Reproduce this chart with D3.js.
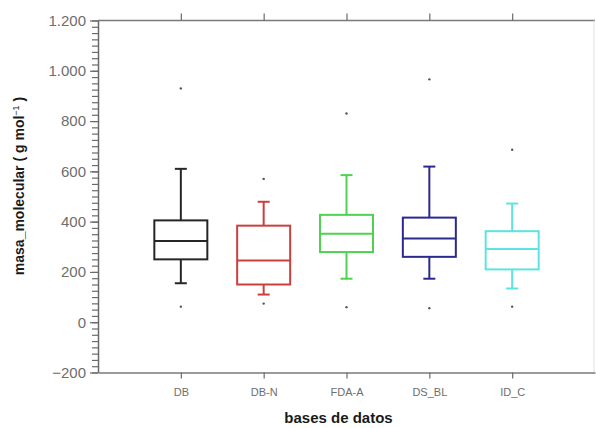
<!DOCTYPE html>
<html>
<head>
<meta charset="utf-8">
<script src="https://cdn.jsdelivr.net/npm/d3@7"></script>
<style>
  body { margin: 0; background: #fff; }
  svg { display: block; font-family: "Liberation Sans", Arial, sans-serif; }
</style>
</head>
<body>
<div id="chart"></div>
<script>
// bases de datos and their box statistics
var categories = ["DB", "DB-N", "FDA-A", "DS_BL", "ID_C"];
var colors = ["#262626", "#c9403f", "#4fd24f", "#2a2a8e", "#5fe2e2"];
var whiskerLow = [155, 110, 173, 173, 134];
var q1 = [250, 150, 279, 260, 210];
var median = [323, 245, 352, 333, 291];
var q3 = [405, 384, 427, 416, 362];
var whiskerHigh = [610, 479, 585, 619, 472];
var outlierLow = [62, 74, 60, 56, 62];
var outlierHigh = [930, 570, 830, 966, 686];
var yTicks = [-200, 0, 200, 400, 600, 800, 1000, 1200];

var width = 596, height = 428;
var margin = {top: 20.5, right: 1, bottom: 56, left: 98};

var svg = d3.select("#chart").append("svg")
    .attr("width", width)
    .attr("height", height);

var x = d3.scaleLinear()
    .domain([0, 6])
    .range([margin.left, width - margin.right]);

var y = d3.scaleLinear()
    .domain([-200, 1200])
    .range([height - margin.bottom + 0.5, margin.top]);

var fmt = function(d) { return d3.format(",")(d).replace(/,/g, "."); };

// frame
svg.append("line")
    .attr("x1", x(0)).attr("x2", x(6))
    .attr("y1", y(1200)).attr("y2", y(1200))
    .attr("stroke", "#7a7a7a").attr("stroke-width", 1.5);
svg.append("line")
    .attr("x1", x(6) - 1).attr("x2", x(6) - 1)
    .attr("y1", y(1200)).attr("y2", y(-200))
    .attr("stroke", "#e0e0e0").attr("stroke-width", 1);

// y axis with minor ticks
var yAxis = svg.append("g")
    .attr("transform", "translate(" + x(0) + ",0)")
    .call(d3.axisLeft(y).tickValues(d3.range(-200, 1201, 25)).tickSize(6).tickSizeOuter(0).tickFormat(""));
yAxis.select(".domain").attr("stroke", "#6a6a6a").attr("stroke-width", 1.5);
yAxis.selectAll(".tick line").attr("stroke", "#6a6a6a").attr("stroke-width", 1.2);

var yMajor = svg.append("g")
    .attr("transform", "translate(" + x(0) + ",0)")
    .call(d3.axisLeft(y).tickValues(yTicks).tickSize(8).tickPadding(4).tickFormat(fmt));
yMajor.select(".domain").remove();
yMajor.selectAll(".tick line").attr("stroke", "#6a6a6a").attr("stroke-width", 1.2);
yMajor.selectAll(".tick text")
    .attr("fill", "#6e6e6e")
    .style("font-size", "15px");

// x axis bottom
var xAxis = svg.append("g")
    .attr("transform", "translate(0," + y(-200) + ")")
    .call(d3.axisBottom(x).tickValues([1, 2, 3, 4, 5]).tickSize(6).tickSizeOuter(0).tickPadding(10)
        .tickFormat(function(d) { return categories[d - 1]; }));
xAxis.select(".domain").attr("stroke", "#7a7a7a").attr("stroke-width", 1.5);
xAxis.selectAll(".tick line").attr("stroke", "#6a6a6a").attr("stroke-width", 1.2);
xAxis.selectAll(".tick text")
    .attr("fill", "#6e6e6e")
    .style("font-size", "11px");

// x ticks on top
var xTop = svg.append("g")
    .attr("transform", "translate(0," + y(1200) + ")")
    .call(d3.axisTop(x).tickValues([1, 2, 3, 4, 5]).tickSize(7).tickFormat(""));
xTop.select(".domain").remove();
xTop.selectAll(".tick line").attr("stroke", "#6a6a6a").attr("stroke-width", 1.2);

// boxes
var boxW = 53, capW = 12;
var data = categories.map(function(c, i) {
  return {i: i, pos: i + 1, color: colors[i], lo: whiskerLow[i], q1: q1[i], med: median[i],
          q3: q3[i], hi: whiskerHigh[i], oLo: outlierLow[i], oHi: outlierHigh[i]};
});

var g = svg.selectAll(".box").data(data).enter().append("g")
    .attr("class", "box")
    .attr("stroke", function(d) { return d.color; })
    .attr("stroke-width", 2)
    .attr("fill", "none");

g.append("line")
    .attr("x1", function(d) { return x(d.pos); }).attr("x2", function(d) { return x(d.pos); })
    .attr("y1", function(d) { return y(d.hi); }).attr("y2", function(d) { return y(d.q3); });
g.append("line")
    .attr("x1", function(d) { return x(d.pos); }).attr("x2", function(d) { return x(d.pos); })
    .attr("y1", function(d) { return y(d.q1); }).attr("y2", function(d) { return y(d.lo); });
g.append("line")
    .attr("x1", function(d) { return x(d.pos) - capW / 2; }).attr("x2", function(d) { return x(d.pos) + capW / 2; })
    .attr("y1", function(d) { return y(d.hi); }).attr("y2", function(d) { return y(d.hi); });
g.append("line")
    .attr("x1", function(d) { return x(d.pos) - capW / 2; }).attr("x2", function(d) { return x(d.pos) + capW / 2; })
    .attr("y1", function(d) { return y(d.lo); }).attr("y2", function(d) { return y(d.lo); });
g.append("rect")
    .attr("x", function(d) { return x(d.pos) - boxW / 2; })
    .attr("y", function(d) { return y(d.q3); })
    .attr("width", boxW)
    .attr("height", function(d) { return y(d.q1) - y(d.q3); })
    .attr("fill", "#fff");
g.append("line")
    .attr("x1", function(d) { return x(d.pos) - boxW / 2; }).attr("x2", function(d) { return x(d.pos) + boxW / 2; })
    .attr("y1", function(d) { return y(d.med); }).attr("y2", function(d) { return y(d.med); });

// outliers
g.append("circle")
    .attr("cx", function(d) { return x(d.pos); })
    .attr("cy", function(d) { return y(d.oHi); })
    .attr("r", 1.2).attr("fill", "#555").attr("stroke", "none");
g.append("circle")
    .attr("cx", function(d) { return x(d.pos); })
    .attr("cy", function(d) { return y(d.oLo); })
    .attr("r", 1.2).attr("fill", "#555").attr("stroke", "none");

// axis titles
svg.append("text")
    .attr("x", (x(0) + x(6)) / 2 - 8)
    .attr("y", 423)
    .attr("text-anchor", "middle")
    .attr("fill", "#1a1a1a")
    .style("font-size", "15px")
    .style("font-weight", "bold")
    .text("bases de datos");

var yl = svg.append("text")
    .attr("transform", "translate(24,186) rotate(-90)")
    .attr("text-anchor", "middle")
    .attr("fill", "#1a1a1a")
    .style("font-size", "14px")
    .style("font-weight", "bold");
yl.append("tspan").text("masa_molecular ( g mol");
yl.append("tspan").attr("dy", -5).style("font-size", "9px").style("font-weight", "normal").text("\u22121");
yl.append("tspan").attr("dy", 5).text(" )");
</script>
</body>
</html>
